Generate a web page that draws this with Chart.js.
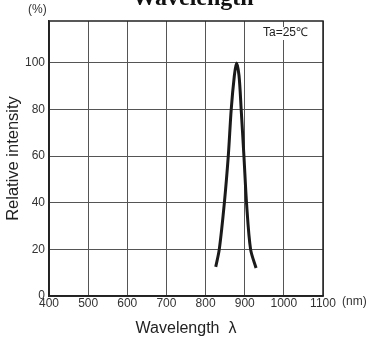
<!DOCTYPE html>
<html>
<head>
<meta charset="utf-8">
<script src="https://cdn.jsdelivr.net/npm/chart.js@4/dist/chart.umd.min.js"></script>
<style>
  html, body { margin: 0; padding: 0; background: #fff; }
  #wrap { width: 370px; height: 338px; }
</style>
</head>
<body>
<div id="wrap"><canvas id="cvs" width="370" height="338"></canvas></div>
<script>
// spectral curve
const wavelengths = [826, 835, 848, 858, 865.5, 873.5, 879, 885.5, 891, 898, 905, 915, 929];
const intensities = [12.5, 20, 40, 60, 80, 94.5, 100, 94.5, 80, 60, 39, 20, 12];
const xTicks = [400, 500, 600, 700, 800, 900, 1000, 1100];
const yTicks = [0, 20, 40, 60, 80, 100];

const FONT = 'Liberation Sans, Arial, sans-serif';

// frame, title fragment and annotations
const extrasPlugin = {
  id: 'extras',
  afterDraw(chart) {
    const ctx = chart.ctx;
    const a = chart.chartArea;
    ctx.save();
    ctx.strokeStyle = '#222';
    ctx.lineWidth = 1.5;
    ctx.strokeRect(a.left, a.top, a.right - a.left, a.bottom - a.top);

    ctx.fillStyle = '#111';
    ctx.font = 'bold 24px "Liberation Serif", "Times New Roman", serif';
    ctx.textAlign = 'center';
    ctx.textBaseline = 'alphabetic';
    ctx.fillText('Wavelength', 193, 5);

    ctx.font = '12px ' + FONT;
    ctx.fillStyle = '#333';
    ctx.textAlign = 'left';
    ctx.textBaseline = 'middle';
    ctx.fillText('(%)', 28, 10);
    ctx.fillText('(nm)', 342, 302);

    ctx.fillStyle = '#fff';
    ctx.fillRect(262, 27, 48, 13);
    ctx.fillStyle = '#222';
    ctx.fillText('Ta=25\u2103', 263, 33);
    ctx.restore();
  }
};

const chart = new Chart(document.getElementById('cvs').getContext('2d'), {
  type: 'scatter',
  data: {
    datasets: [{
      data: wavelengths.map((w, i) => ({ x: w, y: intensities[i] })),
      showLine: true,
      borderColor: '#1a1a1a',
      borderWidth: 3,
      pointRadius: 0,
      tension: 0.3
    }]
  },
  options: {
    animation: false,
    responsive: false,
    layout: { padding: { left: 0, right: 47, top: 21, bottom: 0 } },
    plugins: { legend: false, tooltip: false },
    scales: {
      x: {
        type: 'linear',
        min: 400,
        max: 1100,
        afterBuildTicks: (s) => { s.ticks = xTicks.map(v => ({ value: v })); },
        afterFit: (s) => { s.height = 42; },
        grid: { color: '#555', lineWidth: 1, drawTicks: false },
        border: { color: '#222', width: 1.5 },
        ticks: {
          color: '#333',
          font: { family: FONT, size: 12 },
          padding: 0,
          maxRotation: 0,
          callback: (v) => String(v)
        },
        title: {
          display: true,
          text: 'Wavelength  \u03bb',
          color: '#222',
          font: { family: FONT, size: 16 },
          padding: { top: 8, bottom: 0 }
        }
      },
      y: {
        min: 0,
        max: 118,
        afterBuildTicks: (s) => { s.ticks = yTicks.map(v => ({ value: v })); },
        afterFit: (s) => { s.width = 49; },
        grid: { color: '#555', lineWidth: 1, drawTicks: false },
        border: { color: '#222', width: 1.5 },
        ticks: { color: '#333', font: { family: FONT, size: 12 }, padding: 4 },
        title: {
          display: true,
          text: 'Relative intensity',
          color: '#222',
          font: { family: FONT, size: 16.5 },
          padding: { top: 4, bottom: 0 }
        }
      }
    }
  },
  plugins: [extrasPlugin]
});
</script>
</body>
</html>
